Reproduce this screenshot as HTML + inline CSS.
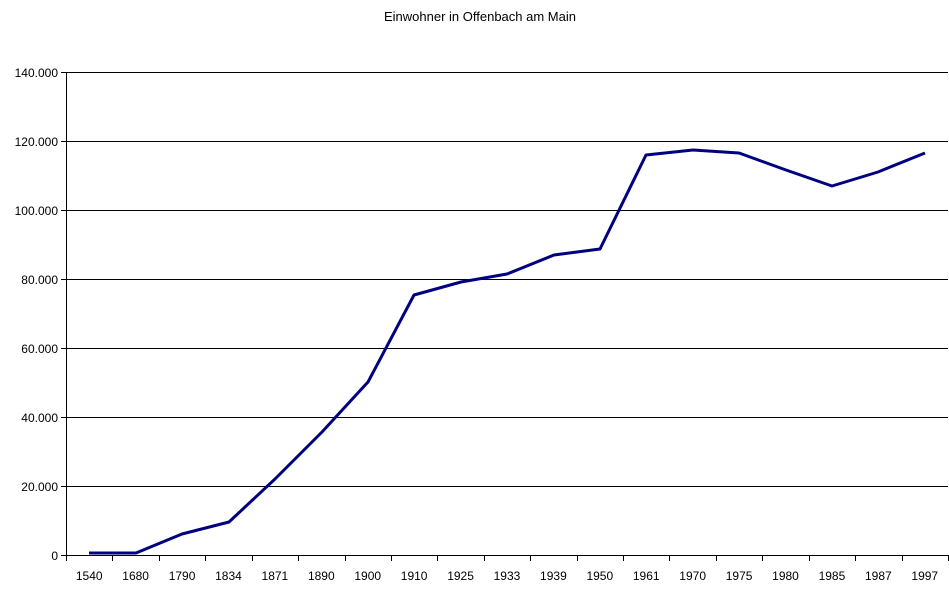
<!DOCTYPE html>
<html><head><meta charset="utf-8"><style>
body{margin:0;background:#fff;}
svg{display:block;font-family:"Liberation Sans",Arial,sans-serif;}
</style></head><body>
<svg width="949" height="589" viewBox="0 0 949 589">
<rect width="949" height="589" fill="#fff"/>
<text x="480" y="21" font-size="13" text-anchor="middle">Einwohner in Offenbach am Main</text>
<g stroke="#000" stroke-width="1" shape-rendering="crispEdges">
<line x1="66" y1="72.5" x2="948" y2="72.5"/>
<line x1="66" y1="141.5" x2="948" y2="141.5"/>
<line x1="66" y1="210.5" x2="948" y2="210.5"/>
<line x1="66" y1="279.5" x2="948" y2="279.5"/>
<line x1="66" y1="348.5" x2="948" y2="348.5"/>
<line x1="66" y1="417.5" x2="948" y2="417.5"/>
<line x1="66" y1="486.5" x2="948" y2="486.5"/>
<line x1="66" y1="555.5" x2="948" y2="555.5"/>
<line x1="66.5" y1="72" x2="66.5" y2="555"/>
<line x1="61" y1="72.5" x2="66" y2="72.5"/>
<line x1="61" y1="141.5" x2="66" y2="141.5"/>
<line x1="61" y1="210.5" x2="66" y2="210.5"/>
<line x1="61" y1="279.5" x2="66" y2="279.5"/>
<line x1="61" y1="348.5" x2="66" y2="348.5"/>
<line x1="61" y1="417.5" x2="66" y2="417.5"/>
<line x1="61" y1="486.5" x2="66" y2="486.5"/>
<line x1="61" y1="555.5" x2="66" y2="555.5"/>
</g>
<g stroke="#000" stroke-width="1" shape-rendering="crispEdges" id="xt"></g>
<g font-size="12" text-anchor="end">
<text x="58" y="77">140.000</text>
<text x="58" y="146">120.000</text>
<text x="58" y="215">100.000</text>
<text x="58" y="284">80.000</text>
<text x="58" y="353">60.000</text>
<text x="58" y="422">40.000</text>
<text x="58" y="491">20.000</text>
<text x="58" y="560">0</text>
</g>
<g font-size="12" text-anchor="middle" id="xl"></g>
<polyline fill="none" stroke="#000080" stroke-width="3" stroke-linejoin="round"
points="89,553 136,553 182,534 229,522 275,479 322,432 368,382 414,295 461,282 507,274 554,255 600,249 646,155 693,150 739,153 786,170 832,186 878,172 925,153"/>
<script>
var yrs=[1540,1680,1790,1834,1871,1890,1900,1910,1925,1933,1939,1950,1961,1970,1975,1980,1985,1987,1997];
var ns="http://www.w3.org/2000/svg",xt=document.getElementById("xt"),xl=document.getElementById("xl");
for(var i=0;i<=19;i++){var x=Math.round(66+46.42*i)+0.5;var l=document.createElementNS(ns,"line");
l.setAttribute("x1",x);l.setAttribute("x2",x);l.setAttribute("y1",555);l.setAttribute("y2",561);xt.appendChild(l);}
for(var i=0;i<19;i++){var t=document.createElementNS(ns,"text");t.setAttribute("x",89.2+46.42*i);t.setAttribute("y",580);t.textContent=yrs[i];xl.appendChild(t);}
</script>
</svg>
</body></html>
